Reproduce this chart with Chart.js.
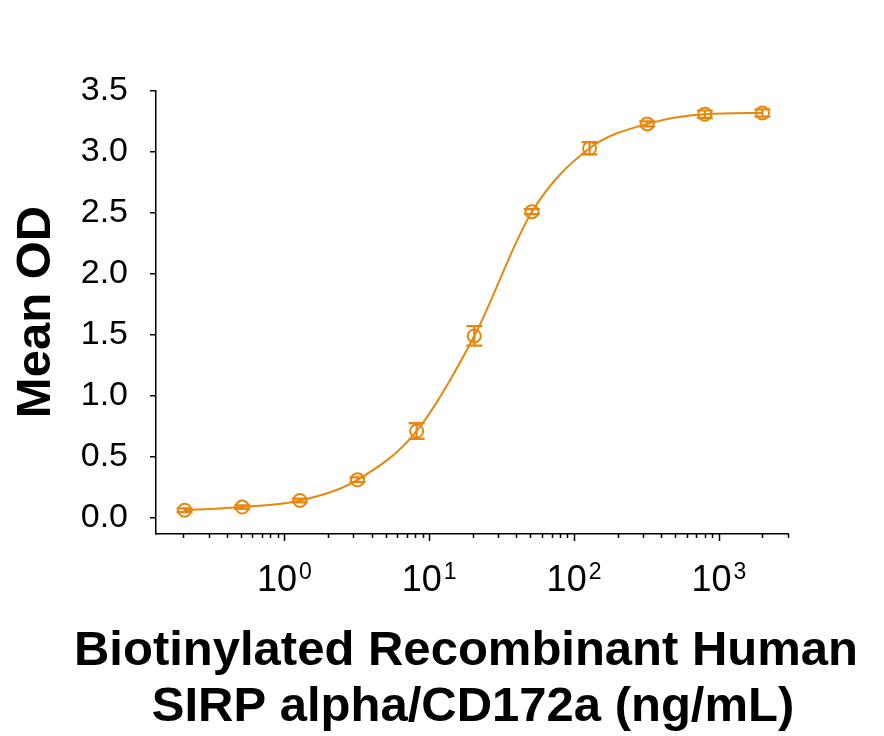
<!DOCTYPE html>
<html>
<head>
<meta charset="utf-8">
<title>Mean OD vs Biotinylated SIRP alpha</title>
<script src="https://cdn.jsdelivr.net/npm/chart.js@4.4.1/dist/chart.umd.min.js"></script>
<style>
  html, body { margin: 0; padding: 0; background: #fff; }
  #wrap { width: 884px; height: 736px; }
</style>
</head>
<body>
<div id="wrap"><canvas id="chart" width="884" height="736"></canvas></div>
<script>
// concentration (ng/mL), 2.5-fold dilution series
const concentrations = [0.2048, 0.512, 1.28, 3.2, 8.192, 20.48, 51.2, 128, 320, 800, 2000];
// mean OD
const meanOD = [0.06, 0.086, 0.14, 0.31, 0.71, 1.49, 2.51, 3.03, 3.23, 3.31, 3.32];
// error (+/-)
const errOD = [0.015, 0.015, 0.015, 0.02, 0.065, 0.08, 0.02, 0.05, 0.02, 0.03, 0.03];

const yTicks = [0, 0.5, 1.0, 1.5, 2.0, 2.5, 3.0, 3.5];
const xMajorTicks = [1, 10, 100, 1000];
const xExponents = ['0', '1', '2', '3'];

const orange = '#E8870E';
const fontFamily = 'Arial, "Liberation Sans", sans-serif';

// minor ticks 0.2..0.9, 2..9, ... up to 3000
const xMinorTicks = [];
[0.1, 1, 10, 100, 1000].forEach(d => {
    for (let m = 2; m <= 9; m++) {
        const v = d * m;
        if (v >= 0.2 && v <= 3000) xMinorTicks.push(v);
    }
});

// vertical error bars with caps
const errorBars = {
    id: 'errorBars',
    afterDatasetsDraw(chart) {
        const ctx = chart.ctx;
        const xs = chart.scales.x, ys = chart.scales.y;
        ctx.save();
        ctx.strokeStyle = orange;
        ctx.lineWidth = 2.2;
        concentrations.forEach((c, i) => {
            const px = xs.getPixelForValue(c);
            const top = ys.getPixelForValue(meanOD[i] + errOD[i]);
            const bot = ys.getPixelForValue(meanOD[i] - errOD[i]);
            ctx.beginPath();
            ctx.moveTo(px, top); ctx.lineTo(px, bot);
            ctx.moveTo(px - 8, top); ctx.lineTo(px + 8, top);
            ctx.moveTo(px - 8, bot); ctx.lineTo(px + 8, bot);
            ctx.stroke();
        });
        ctx.restore();
    }
};

// log axis ticks, 10^n labels and the two axis titles
const axisDecor = {
    id: 'axisDecor',
    afterDraw(chart) {
        const ctx = chart.ctx;
        const xs = chart.scales.x;
        const base = chart.chartArea.bottom;
        ctx.save();
        ctx.strokeStyle = '#000';
        ctx.lineWidth = 1.5;
        ctx.beginPath();
        xMinorTicks.forEach(v => {
            const px = Math.round(xs.getPixelForValue(v)) + 0.5;
            ctx.moveTo(px, base); ctx.lineTo(px, base + 4);
        });
        xMajorTicks.forEach(v => {
            const px = Math.round(xs.getPixelForValue(v)) + 0.5;
            ctx.moveTo(px, base); ctx.lineTo(px, base + 7);
        });
        ctx.stroke();

        ctx.fillStyle = '#000';
        ctx.textBaseline = 'alphabetic';
        ctx.textAlign = 'left';
        xMajorTicks.forEach((v, i) => {
            const px = xs.getPixelForValue(v);
            ctx.font = '36px ' + fontFamily;
            const w1 = ctx.measureText('10').width;
            ctx.font = '23px ' + fontFamily;
            const w2 = ctx.measureText(xExponents[i]).width;
            const x0 = px - (w1 + w2 + 2) / 2;
            ctx.font = '36px ' + fontFamily;
            ctx.fillText('10', x0, 591);
            ctx.font = '23px ' + fontFamily;
            ctx.fillText(xExponents[i], x0 + w1 + 2, 579);
        });

        ctx.font = 'bold 49px ' + fontFamily;
        ctx.textAlign = 'center';
        ctx.fillText('Biotinylated Recombinant Human', 466, 665);
        ctx.fillText('SIRP alpha/CD172a (ng/mL)', 473, 721);

        ctx.translate(50, 312);
        ctx.rotate(-Math.PI / 2);
        ctx.fillText('Mean OD', 0, 0);
        ctx.restore();
    }
};

new Chart(document.getElementById('chart'), {
    type: 'line',
    data: {
        datasets: [{
            data: concentrations.map((c, i) => ({ x: c, y: meanOD[i] })),
            borderColor: orange,
            borderWidth: 2,
            cubicInterpolationMode: 'monotone',
            pointRadius: 6.5,
            pointBorderWidth: 2,
            pointBorderColor: orange,
            pointBackgroundColor: 'rgba(0,0,0,0)',
            fill: false
        }]
    },
    options: {
        responsive: false,
        animation: false,
        layout: { padding: { top: 91, right: 96, left: 0, bottom: 0 } },
        plugins: { legend: { display: false }, tooltip: { enabled: false } },
        scales: {
            x: {
                type: 'logarithmic',
                min: 0.13,
                max: 3000,
                grid: { display: false },
                border: { display: true, color: '#000', width: 1.5 },
                ticks: { display: false },
                afterFit(scale) { scale.height = 202; }
            },
            y: {
                type: 'linear',
                min: -0.135,
                max: 3.5,
                afterBuildTicks(scale) {
                    scale.ticks = yTicks.map(v => ({ value: v }));
                },
                grid: {
                    display: true,
                    drawOnChartArea: false,
                    drawTicks: true,
                    tickLength: 6,
                    color: '#000',
                    lineWidth: 1.5
                },
                border: { display: true, color: '#000', width: 1.5 },
                ticks: {
                    padding: 22,
                    color: '#000',
                    font: { family: fontFamily, size: 34 },
                    callback: v => v.toFixed(1)
                },
                afterFit(scale) { scale.width = 156; }
            }
        }
    },
    plugins: [errorBars, axisDecor]
});
</script>
</body>
</html>
